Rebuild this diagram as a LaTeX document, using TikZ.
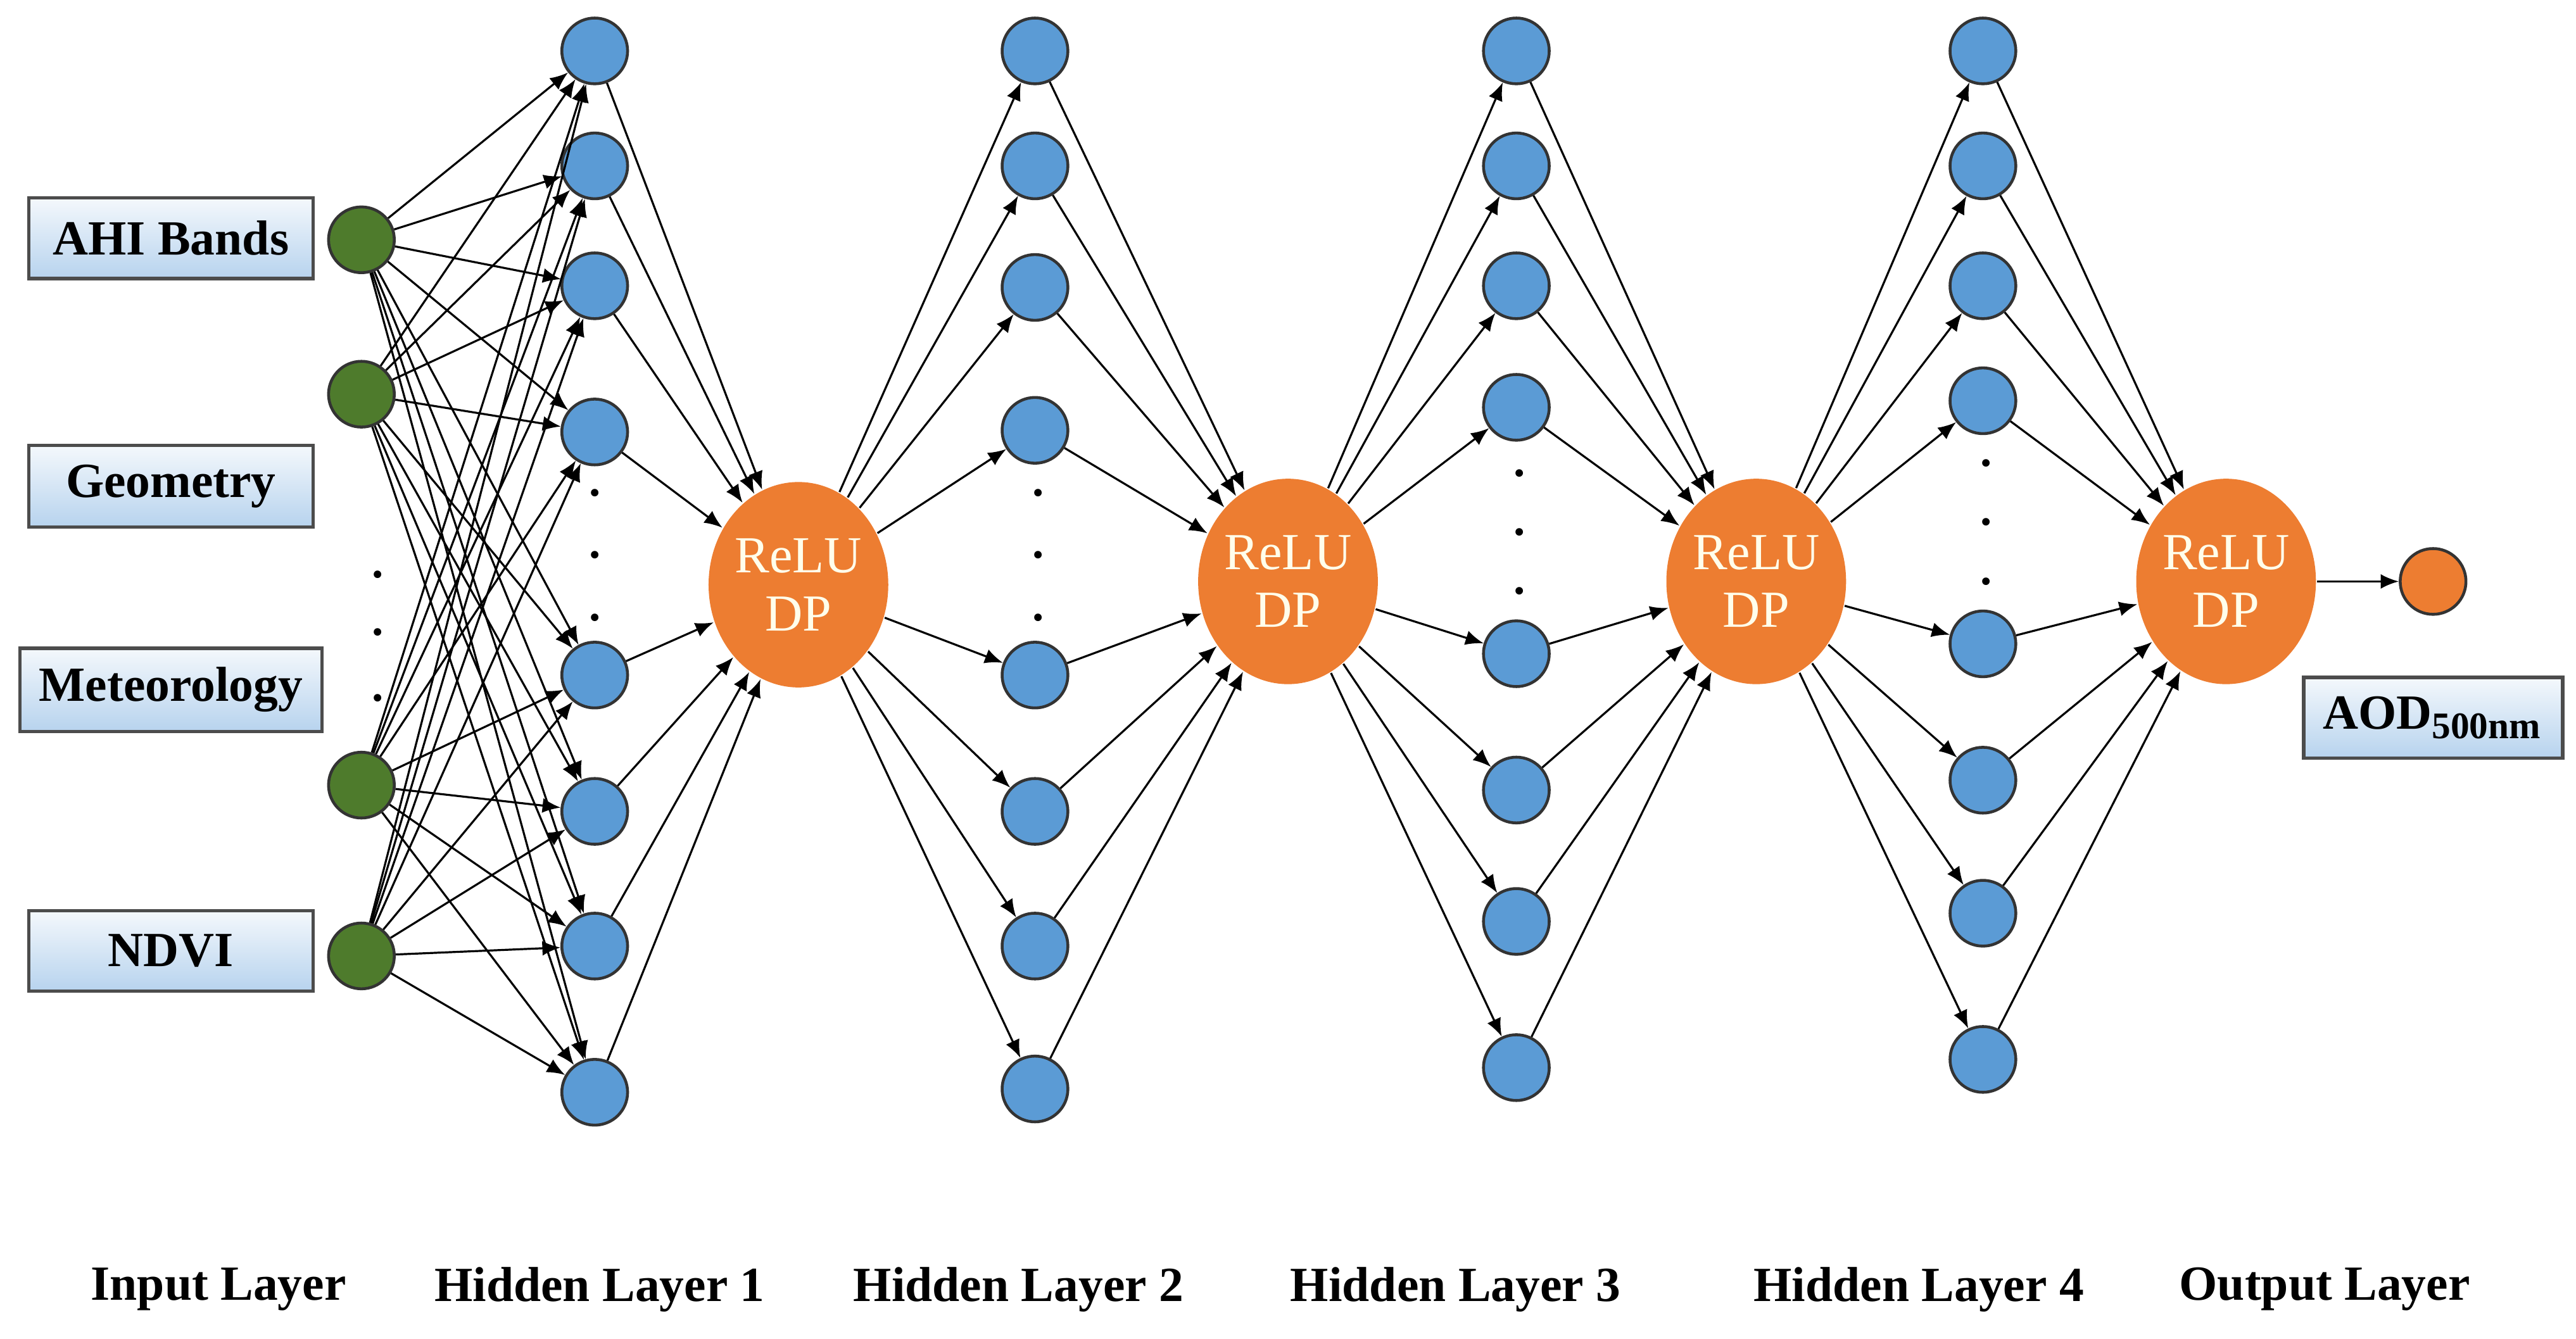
\documentclass[tikz,border=0pt]{standalone}
\usepackage{fontspec}
\setmainfont{Liberation Serif}
\usetikzlibrary{shapes.geometric,arrows.meta}
\definecolor{ingreen}{HTML}{4E7B2C}
\definecolor{hblue}{HTML}{5B9BD5}
\definecolor{relu}{HTML}{ED7D31}
\definecolor{boxtop}{HTML}{F4F8FC}
\definecolor{boxbot}{HTML}{B7D3EE}
\begin{document}
\begin{tikzpicture}[x=0.01cm,y=-0.01cm,
  neuron/.style={circle,draw=black!80,line width=0.5pt,minimum width=0.38cm,minimum height=0.4cm,inner sep=0pt},
  inp/.style={neuron,fill=ingreen},
  hid/.style={neuron,fill=hblue},
  act/.style={ellipse,fill=relu,text=white!92!yellow,minimum width=1.02cm,minimum height=1.25cm,inner sep=0pt,align=center,font=\fontsize{9}{10}\selectfont},
  lbox/.style={draw=black!70,line width=0.6pt,top color=boxtop,bottom color=boxbot,minimum width=1.73cm,minimum height=0.49cm,font=\fontsize{8.5}{10}\selectfont\bfseries},
  lay/.style={font=\fontsize{8.5}{10}\selectfont\bfseries},
  con/.style={line width=0.35pt,-{Latex[length=1.1mm,width=0.9mm]}},
  ln/.style={line width=0.35pt},
  dot/.style={font=\fontsize{8}{8}\selectfont\bfseries}]
\useasboundingbox (0,0) rectangle (1568,815);
% input boxes
\node[lbox] (bA) at (104,145) {AHI Bands};
\node[lbox] (bG) at (104,296) {Geometry};
\node[lbox] (bM) at (104,420) {Meteorology};
\node[lbox] (bN) at (104,579) {NDVI};
% input neurons
\foreach \i/\y in {1/146,2/240,3/478,4/582} \node[inp] (i\i) at (220,\y) {};
\foreach \y [count=\k] in {350,385,425} \node[dot] (id\k) at (230,\y) {.};
% hidden layers
\foreach \i/\y in {1/31,2/101,3/174,4/263,5/411,6/494,7/576,8/665} \node[hid] (a\i) at (362,\y) {};
\foreach \i/\y in {1/31,2/101,3/175,4/262,5/411,6/494,7/576,8/663} \node[hid] (b\i) at (630,\y) {};
\foreach \i/\y in {1/31,2/101,3/174,4/248,5/398,6/481,7/561,8/650} \node[hid] (c\i) at (923,\y) {};
\foreach \i/\y in {1/31,2/101,3/174,4/244,5/392,6/475,7/556,8/645} \node[hid] (d\i) at (1207,\y) {};
\foreach \y [count=\k] in {300,338,376} \node[dot] (ad\k) at (362,\y) {.};
\foreach \y [count=\k] in {300,338,376} \node[dot] (bd\k) at (632,\y) {.};
\foreach \y [count=\k] in {288,324,360} \node[dot] (cd\k) at (925,\y) {.};
\foreach \y [count=\k] in {282,318,354} \node[dot] (dd\k) at (1209,\y) {.};
% activations
\node[act] (r1) at (486,356) {ReLU\\DP};
\node[act] (r2) at (784,354) {ReLU\\DP};
\node[act] (r3) at (1069,354) {ReLU\\DP};
\node[act] (r4) at (1355,354) {ReLU\\DP};
\node[neuron,fill=relu] (o) at (1481,354) {};
\node[lbox,minimum width=1.47cm] (bO) at (1481,437) {AOD\textsubscript{\fontsize{6.5}{7}\selectfont 500nm}};
% connections
\foreach \i in {1,...,4} \foreach \j in {1,...,8} \draw[con] (i\i) -- (a\j);
\foreach \j in {1,...,8} {
  \draw[con] (a\j) -- (r1);
  \draw[con] (r1) -- (b\j);
  \draw[con] (b\j) -- (r2);
  \draw[con] (r2) -- (c\j);
  \draw[con] (c\j) -- (r3);
  \draw[con] (r3) -- (d\j);
  \draw[con] (d\j) -- (r4);
}
\draw[con] (r4) -- (o);
% layer labels
\node[lay] (l0) at (133,785) {Input Layer};
\node[lay] (l1) at (365,785) {Hidden Layer 1};
\node[lay] (l2) at (620,785) {Hidden Layer 2};
\node[lay] (l3) at (886,785) {Hidden Layer 3};
\node[lay] (l4) at (1168,785) {Hidden Layer 4};
\node[lay] (l5) at (1415,785) {Output Layer};
\end{tikzpicture}
\end{document}
